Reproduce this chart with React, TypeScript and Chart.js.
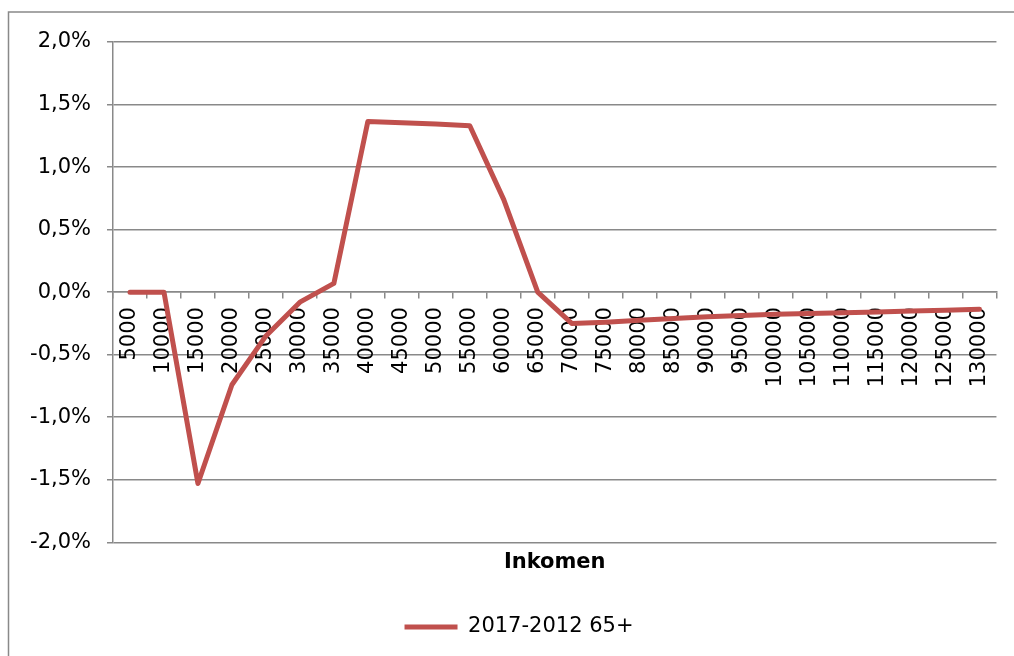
import React, { useEffect, useRef } from "react";
import { Chart, registerables } from "chart.js";

Chart.register(...registerables);

const categories = [
  "5000", "10000", "15000", "20000", "25000", "30000", "35000", "40000", "45000",
  "50000", "55000", "60000", "65000", "70000", "75000", "80000", "85000", "90000",
  "95000", "100000", "105000", "110000", "115000", "120000", "125000", "130000",
];

// values in percent
const series65plus = [
  0, 0, -1.53, -0.74, -0.35, -0.08, 0.07, 1.365, 1.355, 1.345, 1.33, 0.74, 0.0,
  -0.25, -0.24, -0.225, -0.21, -0.197, -0.187, -0.177, -0.17, -0.165, -0.158,
  -0.15, -0.144, -0.136,
];

const seriesLabel = "2017-2012 65+";
const xTitle = "Inkomen";
const yMin = -2;
const yMax = 2;
const yStep = 0.5;

const GRID = "#898989";
const LINE = "#C0504D";
const FONT = "'DejaVu Sans', Verdana, sans-serif";

const framePlugin = {
  id: "frame",
  beforeDraw(chart: any) {
    const ctx = chart.ctx;
    ctx.save();
    ctx.strokeStyle = GRID;
    ctx.lineWidth = 1.5;
    ctx.strokeRect(8.5, 12, 1100, 800);
    ctx.restore();
  },
  afterLayout(chart: any) {
    // Excel centres the legend over a slightly wider band than the plot area
    if (chart.legend) {
      chart.legend.left = 41;
      chart.legend.right = 997;
    }
  },
};

export default function App() {
  const ref = useRef<HTMLCanvasElement | null>(null);

  useEffect(() => {
    if (!ref.current) return;
    Chart.defaults.font.family = FONT;
    Chart.defaults.color = "#000";
    const chart = new Chart(ref.current, {
      type: "line",
      data: {
        labels: categories,
        datasets: [
          {
            label: seriesLabel,
            data: series65plus,
            borderColor: LINE,
            backgroundColor: LINE,
            borderWidth: 5,
            borderCapStyle: "round",
            borderJoinStyle: "round",
            pointRadius: 0,
            tension: 0,
          },
        ],
      },
      options: {
        animation: false,
        responsive: false,
        layout: { padding: { left: 0, right: 17, top: 42, bottom: 8.5 } },
        scales: {
          x: {
            type: "category",
            offset: true,
            position: { y: 0 } as any,
            grid: {
              display: true,
              drawOnChartArea: false,
              drawTicks: true,
              tickLength: 6,
              offset: true,
              color: GRID,
              lineWidth: 1.5,
            },
            border: { display: true, color: GRID, width: 1.5 },
            ticks: {
              autoSkip: false,
              minRotation: 90,
              maxRotation: 90,
              padding: 9,
              font: { size: 21, family: FONT },
              color: "#000",
            },
          },
          y: {
            min: yMin,
            max: yMax,
            afterFit: (scale: any) => {
              scale.width = 113;
            },
            grid: {
              color: GRID,
              lineWidth: 1.5,
              tickLength: 6,
              drawTicks: true,
            },
            border: { display: true, color: GRID, width: 1.5 },
            ticks: {
              stepSize: yStep,
              padding: 16,
              font: { size: 21, family: FONT },
              color: "#000",
              callback: (v: any) => {
                const n = Math.abs(Number(v)) < 1e-9 ? 0 : Number(v);
                return n.toFixed(1).replace(".", ",") + "%";
              },
            },
          },
        },
        plugins: {
          title: {
            display: true,
            text: xTitle,
            position: "bottom",
            fullSize: false,
            weight: 500,
            color: "#000",
            font: { size: 21, weight: "bold", family: FONT },
            padding: { top: 8, bottom: 31 },
          },
          legend: {
            display: true,
            position: "bottom",
            labels: {
              usePointStyle: true,
              pointStyle: "line",
              pointStyleWidth: 53,
              boxHeight: 21,
              padding: 10,
              color: "#000",
              font: { size: 21, family: FONT },
            },
          },
          tooltip: { enabled: false },
        },
      },
      plugins: [framePlugin],
    });
    return () => chart.destroy();
  }, []);

  return (
    <div
      style={{
        position: "fixed",
        left: 0,
        top: 0,
        width: 1014,
        height: 656,
        overflow: "hidden",
        background: "#fff",
      }}
    >
      <canvas ref={ref} width={1014} height={656} />
    </div>
  );
}
